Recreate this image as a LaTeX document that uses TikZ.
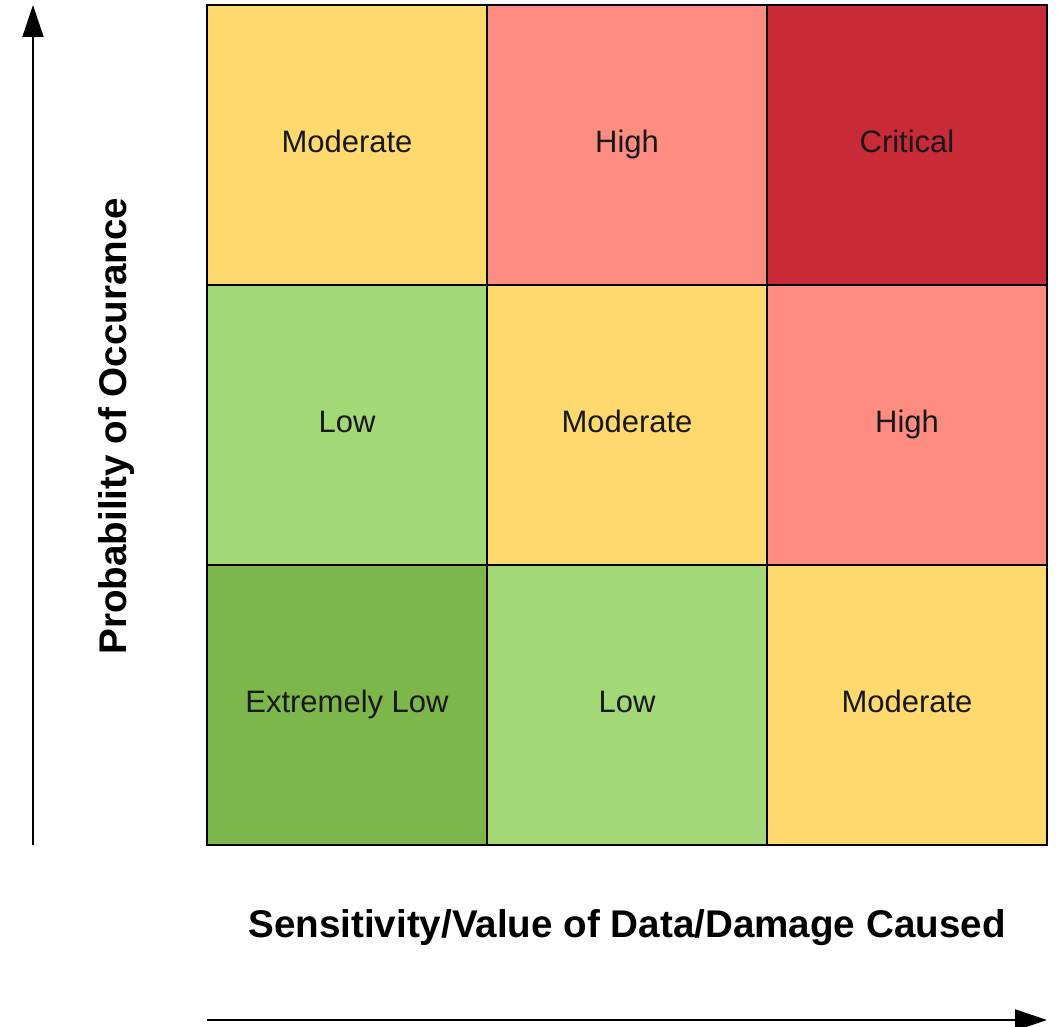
\documentclass[tikz,border=0pt]{standalone}
\usepackage{fontspec}
\setmainfont{Liberation Sans}
\usetikzlibrary{arrows.meta,positioning}

\definecolor{moderate}{HTML}{FFD96E}
\definecolor{high}{HTML}{FF8C80}
\definecolor{critical}{HTML}{C92A38}
\definecolor{low}{HTML}{A3D877}
\definecolor{extlow}{HTML}{7DB64A}

\tikzset{
	cell/.style = {draw = black, line width = 2.6pt, minimum width = 280pt, minimum height = 280pt,
		inner sep = 0pt, outer sep = 0pt, text height = 22pt, text depth = 6pt,
		font = \fontsize{31}{36}\selectfont, text = black!90},
	axis/.style = {line width = 2pt, -{Triangle[length=32pt, width=21pt]}},
	axislabel/.style = {font = \fontsize{38.6}{44}\selectfont\bfseries}
}

\begin{document}
\begin{tikzpicture}[x = 1pt, y = 1pt]

	\useasboundingbox (0,0) rectangle (1058,1026);

	% risk grid, bottom row first
	\node[cell, fill = extlow]   (c11) at (347,321) {Extremely Low};
	\node[cell, fill = low]      (c21) [right = 0pt of c11] {Low};
	\node[cell, fill = moderate] (c31) [right = 0pt of c21] {Moderate};

	\node[cell, fill = low]      (c12) [above = 0pt of c11] {Low};
	\node[cell, fill = moderate] (c22) [right = 0pt of c12] {Moderate};
	\node[cell, fill = high]     (c32) [right = 0pt of c22] {High};

	\node[cell, fill = moderate] (c13) [above = 0pt of c12] {Moderate};
	\node[cell, fill = high]     (c23) [right = 0pt of c13] {High};
	\node[cell, fill = critical] (c33) [right = 0pt of c23] {Critical};

	% axes
	\coordinate (ybot) at (33,181);
	\coordinate (ytop) at (33,1021);
	\coordinate (xleft) at (207,6);
	\coordinate (xright) at (1047,6);
	\draw[axis] (ybot) -- (ytop);
	\draw[axis] (xleft) -- (xright);

	\node[axislabel, rotate = 90] (ylab) at (117,600) {Probability of Occurance};
	\node[axislabel] (xlab) at (627,98) {Sensitivity/Value of Data/Damage Caused};

\end{tikzpicture}
\end{document}
